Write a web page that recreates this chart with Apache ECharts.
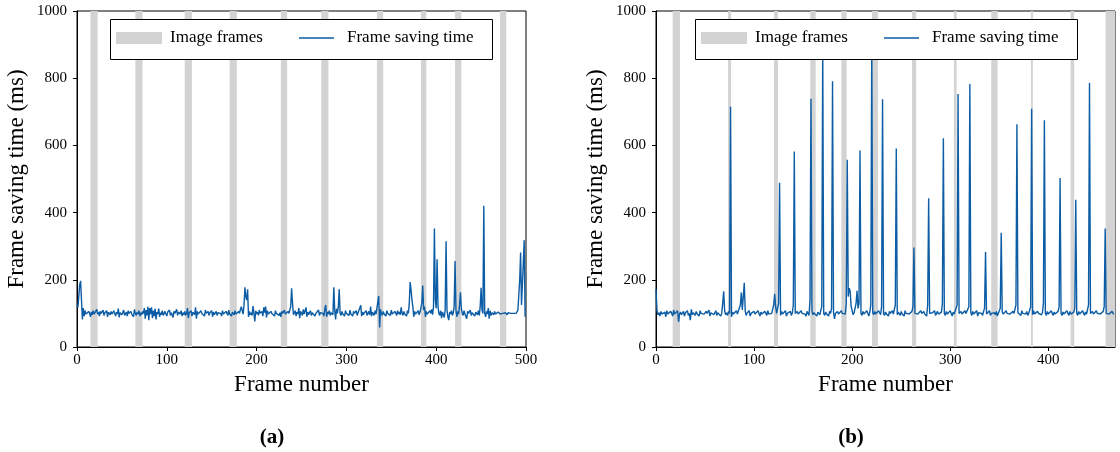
<!DOCTYPE html>
<html>
<head>
<meta charset="utf-8">
<script src="https://cdn.jsdelivr.net/npm/echarts@6/dist/echarts.min.js"></script>
<style>
  html, body { margin: 0; padding: 0; background: #ffffff; }
  #chart { width: 1120px; height: 452px; }
</style>
</head>
<body>
<div id="chart"></div>
<script>
// Frame saving time (ms) per frame, run (a): frames 0..499
const savingTimeA = [
  125,118,122,185,197,192,82,116,92,108,98,102,94,106,100,90,104,96,108,98,
  102,94,112,98,104,92,106,100,96,110,94,102,98,108,90,104,100,96,106,98,
  94,108,100,92,104,98,114,88,102,106,96,100,110,94,98,104,92,108,100,96,
  106,98,102,90,112,100,94,104,98,108,92,102,96,106,100,116,84,110,94,120,
  80,116,98,118,86,108,92,114,82,104,98,114,90,102,96,108,94,100,106,98,
  92,104,100,110,94,102,98,88,106,100,96,112,94,104,100,98,108,92,102,96,
  106,94,100,116,86,102,98,108,92,104,100,96,118,84,106,98,102,94,108,100,
  96,104,92,110,100,98,106,94,102,100,108,90,104,96,100,106,94,102,98,104,
  100,92,108,98,102,96,106,100,94,110,98,102,92,104,100,96,108,98,102,94,
  106,100,112,120,108,98,125,178,150,140,172,90,106,96,102,94,122,100,76,108,
  98,104,94,110,100,96,106,92,118,102,120,88,108,98,102,94,106,100,96,104,
  92,108,100,98,104,94,102,90,106,100,96,110,98,102,94,106,100,96,120,175,
  130,96,102,108,92,104,98,116,86,106,100,94,112,98,102,118,90,104,96,100,
  108,94,102,98,106,92,100,104,96,110,94,102,98,106,100,92,114,125,90,104,
  98,108,94,102,100,96,178,108,82,114,100,120,172,100,94,106,98,102,92,108,
  100,96,104,94,110,98,102,92,106,100,96,108,94,102,98,106,124,92,104,96,
  102,98,108,94,100,106,96,120,92,104,100,94,108,98,102,96,152,58,112,100,
  94,106,98,102,92,108,100,96,104,94,110,98,102,96,106,100,94,108,98,104,
  96,118,100,94,106,98,102,92,108,100,130,193,170,140,120,90,106,98,102,94,
  108,96,104,100,130,183,110,120,90,106,98,102,94,108,100,112,96,120,353,140,
  115,261,120,100,94,108,86,104,96,88,110,315,110,90,80,104,98,108,94,102,
  120,256,110,90,106,98,125,163,115,100,94,108,98,102,84,106,100,96,110,94,
  102,98,106,92,104,100,96,108,94,120,176,110,100,420,100,90,106,98,116,84,
  108,94,102,100,96,106,98,102,94,104,100,98,102,96,100,104,98,102,100,96,
  102,98,104,100,96,102,100,98,104,100,96,110,108,200,281,125,130,250,318,90
];

// Frame saving time (ms) per frame, run (b): frames 0..467
const savingTimeB = [
  172,108,96,102,92,106,98,100,94,104,90,108,98,102,96,106,100,92,110,98,
  102,94,108,75,98,104,96,100,106,92,102,98,108,94,100,80,112,96,102,100,
  94,106,98,102,92,108,100,96,104,98,94,106,100,96,110,92,102,98,106,96,
  100,108,94,102,98,104,92,100,130,166,108,96,102,94,106,100,715,90,104,98,
  102,94,108,98,100,96,125,162,110,150,191,106,94,102,98,108,92,100,104,96,
  106,98,102,94,108,100,92,104,98,102,96,106,100,94,108,98,102,96,100,104,
  125,158,120,100,96,130,489,94,106,98,102,96,108,92,100,104,98,106,94,102,
  125,582,100,96,106,98,102,94,108,100,96,104,98,92,106,100,94,140,739,108,
  96,102,98,106,92,104,100,96,108,120,890,100,94,104,98,102,92,106,100,115,
  791,104,84,100,96,106,98,102,94,108,100,96,104,98,130,557,150,175,165,120,
  108,96,102,98,130,167,115,130,585,100,94,106,98,102,96,108,100,92,104,125,
  910,102,96,106,98,100,94,108,102,96,120,737,100,94,104,98,102,92,106,100,
  96,108,98,102,125,591,96,104,100,94,106,98,102,92,108,100,96,104,98,102,
  94,106,120,296,100,96,104,98,102,94,108,100,96,106,98,102,92,125,443,100,
  104,96,102,98,108,94,100,106,98,102,96,104,130,621,100,94,106,98,102,96,
  108,100,92,104,98,102,94,125,753,100,96,106,98,102,94,108,100,96,104,120,
  783,102,94,106,98,100,96,108,92,102,98,104,100,94,106,115,283,98,102,96,
  108,94,100,104,98,102,96,106,92,100,98,115,340,104,98,102,94,108,100,96,
  104,98,102,94,106,100,96,125,663,102,98,104,94,108,100,96,102,98,106,94,
  100,104,120,709,96,108,98,102,94,106,100,98,104,96,102,130,675,100,94,106,
  98,102,96,108,100,94,104,98,102,96,106,120,503,100,94,104,98,102,96,108,
  100,94,106,98,102,96,104,115,438,100,94,106,98,102,96,108,100,94,104,98,
  102,125,786,100,96,106,98,102,94,108,100,96,104,98,102,94,106,120,353,100,
  96,104,98,102,94,106,100,98
];

// Frame ranges [start, end] during which image frames were being written
const imageFramesA = [
  [15, 23], [65, 73], [120, 128], [170, 178], [227, 234],
  [272, 280], [334, 341], [383, 389], [421, 428], [471, 478]
];
const imageFramesB = [
  [17, 24.5], [73.5, 76.5], [120.3, 124.4], [157.3, 162.8], [189, 194.4],
  [220.2, 226.3], [261, 265.3], [303.8, 306.5], [341.8, 348.3], [382.3, 384.3],
  [422.7, 426.4], [458.4, 468]
];

// Axis ranges and tick labels
const yTicks = [0, 200, 400, 600, 800, 1000];
const xTicksA = [0, 100, 200, 300, 400, 500];
const xTicksB = [0, 100, 200, 300, 400];
const xMaxA = 500;
const xMaxB = 468;
const panelLabels = ['(a)', '(b)'];

const SERIF = "'Liberation Serif', 'DejaVu Serif', serif";
const LINE_COLOR = '#0C5DA5';
const BAND_COLOR = '#d3d3d3';

const chart = echarts.init(document.getElementById('chart'), null, { renderer: 'canvas' });

function xAxisFor(gridIndex, max, ticks) {
  return {
    type: 'value', gridIndex, min: 0, max, interval: 100,
    name: 'Frame number', nameLocation: 'middle', nameGap: 26,
    nameTextStyle: { fontFamily: SERIF, fontSize: 23, color: '#000' },
    axisLine: { show: true, lineStyle: { color: '#000', width: 1 } },
    axisTick: { show: true, inside: false, length: 4, lineStyle: { color: '#000' }, customValues: ticks },
    axisLabel: { fontFamily: SERIF, fontSize: 15, color: '#000', margin: 6, customValues: ticks, formatter: v => String(v) },
    splitLine: { show: false }
  };
}
function yAxisFor(gridIndex) {
  return {
    type: 'value', gridIndex, min: 0, max: 1000, interval: 200,
    name: 'Frame saving time (ms)', nameLocation: 'middle', nameGap: 49,
    nameTextStyle: { fontFamily: SERIF, fontSize: 23, color: '#000' },
    axisLine: { show: true, lineStyle: { color: '#000', width: 1 } },
    axisTick: { show: true, inside: false, length: 4, lineStyle: { color: '#000' }, customValues: yTicks },
    axisLabel: { fontFamily: SERIF, fontSize: 15, color: '#000', margin: 10, customValues: yTicks, formatter: v => String(v) },
    splitLine: { show: false }
  };
}

function bandSeries(idx, bands) {
  return {
    type: 'custom', name: 'Image frames', xAxisIndex: idx, yAxisIndex: idx,
    color: BAND_COLOR, z: 1, clip: true, silent: true,
    encode: { x: [0, 1] },
    data: bands,
    renderItem: (params, api) => {
      const topLeft = api.coord([api.value(0), 1000]);
      const bottomRight = api.coord([api.value(1), 0]);
      return {
        type: 'rect',
        shape: { x: topLeft[0], y: topLeft[1], width: bottomRight[0] - topLeft[0], height: bottomRight[1] - topLeft[1] },
        style: { fill: BAND_COLOR }
      };
    }
  };
}
function lineSeries(idx, values) {
  return {
    type: 'line', name: 'Frame saving time', xAxisIndex: idx, yAxisIndex: idx,
    data: values.map((v, i) => [i, v]),
    showSymbol: false, symbol: 'none', z: 2, clip: true,
    color: LINE_COLOR,
    lineStyle: { color: LINE_COLOR, width: 1.4 }
  };
}

function legendPair(boxLeft) {
  const common = {
    orient: 'horizontal', padding: 0, top: 28, itemGap: 0,
    textStyle: { fontFamily: SERIF, fontSize: 17, color: '#000', lineHeight: 20 },
    selectedMode: false, z: 5
  };
  return [
    Object.assign({}, common, {
      left: boxLeft + 6, itemWidth: 46, itemHeight: 12,
      data: [{ name: 'Image frames', icon: 'rect', itemStyle: { color: BAND_COLOR } }],
      textStyle: Object.assign({}, common.textStyle, { padding: [0, 0, 0, 3] })
    }),
    Object.assign({}, common, {
      left: boxLeft + 189, itemWidth: 35, itemHeight: 1.6,
      data: [{ name: 'Frame saving time', icon: 'rect', itemStyle: { color: LINE_COLOR } }],
      textStyle: Object.assign({}, common.textStyle, { padding: [0, 0, 0, 8] })
    })
  ];
}

const option = {
  animation: false,
  backgroundColor: '#ffffff',
  grid: [
    { left: 77, top: 11, width: 449, height: 336, show: true, borderColor: '#000', borderWidth: 1, backgroundColor: 'transparent', containLabel: false },
    { left: 656, top: 11, width: 459, height: 336, show: true, borderColor: '#000', borderWidth: 1, backgroundColor: 'transparent', containLabel: false }
  ],
  xAxis: [xAxisFor(0, xMaxA, xTicksA), xAxisFor(1, xMaxB, xTicksB)],
  yAxis: [yAxisFor(0), yAxisFor(1)],
  legend: legendPair(110).concat(legendPair(695)),
  series: [
    bandSeries(0, imageFramesA), lineSeries(0, savingTimeA),
    bandSeries(1, imageFramesB), lineSeries(1, savingTimeB)
  ],
  graphic: [
    { type: 'rect', z: 3, shape: { x: 110.5, y: 19.5, width: 382, height: 40 }, style: { fill: '#fff', stroke: '#000', lineWidth: 1 } },
    { type: 'rect', z: 3, shape: { x: 695.5, y: 19.5, width: 382, height: 40 }, style: { fill: '#fff', stroke: '#000', lineWidth: 1 } },
    { type: 'text', z: 3, style: { text: panelLabels[0], x: 272, y: 438, align: 'center', verticalAlign: 'middle', font: "bold 21px 'Liberation Serif', serif", fill: '#000' } },
    { type: 'text', z: 3, style: { text: panelLabels[1], x: 851, y: 438, align: 'center', verticalAlign: 'middle', font: "bold 21px 'Liberation Serif', serif", fill: '#000' } }
  ]
};

chart.setOption(option);
</script>
</body>
</html>
